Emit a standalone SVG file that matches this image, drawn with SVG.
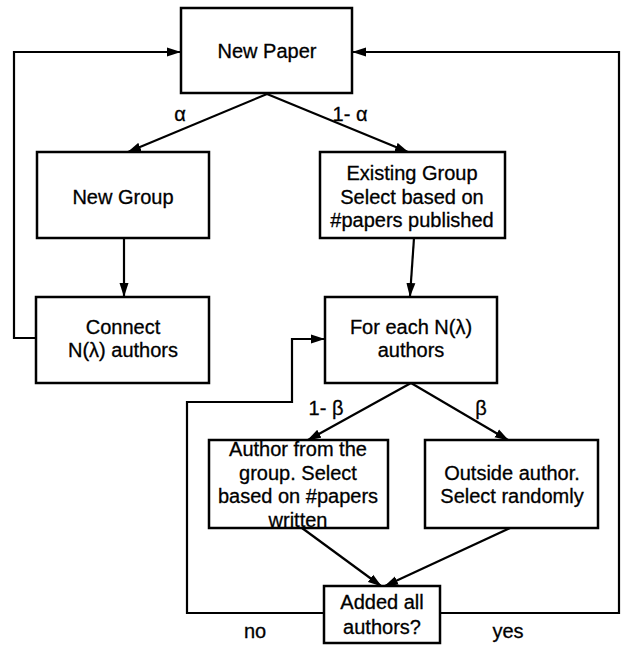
<svg xmlns="http://www.w3.org/2000/svg" width="621" height="645" viewBox="0 0 621 645">
<style>
.box{fill:#fff;stroke:#000;stroke-width:2.5}
.t{font-family:"Liberation Sans",Arial,sans-serif;font-size:20px;fill:#000;stroke:#000;stroke-width:0.3;text-anchor:middle}
.c{fill:none;stroke:#000;stroke-width:2.2}
</style>
<defs>
<marker id="ah" markerUnits="userSpaceOnUse" markerWidth="14" markerHeight="10" viewBox="0 0 14 10" refX="13" refY="5" orient="auto">
<path d="M0,0.5 L14,5 L0,9.5 Z" fill="#000"/>
</marker>
</defs>
<rect width="621" height="645" fill="#fff"/>
<g id="connectors">
<path class="c" d="M36,338 H14 V52 H180" marker-end="url(#ah)"/>
<path class="c" d="M440,613 H619 V52 H353" marker-end="url(#ah)"/>
<path class="c" d="M267,94 L128,152" marker-end="url(#ah)"/>
<path class="c" d="M267,94 L408,152" marker-end="url(#ah)"/>
<path class="c" d="M124,238 V296" marker-end="url(#ah)"/>
<path class="c" d="M414,238 L410,296" marker-end="url(#ah)"/>
<path class="c" d="M411,383 L308,440" marker-end="url(#ah)"/>
<path class="c" d="M411,383 L508,440" marker-end="url(#ah)"/>
<path class="c" d="M302,528 L381,586" marker-end="url(#ah)"/>
<path class="c" d="M510,528 L385,586" marker-end="url(#ah)"/>
<path class="c" d="M324,613 H187 V402 H292 V339 H324" marker-end="url(#ah)"/>
<text class="t" x="180" y="121">α</text>
<text class="t" x="350" y="121">1- α</text>
<text class="t" x="326" y="415">1- β</text>
<text class="t" x="481" y="415">β</text>
<text class="t" x="255" y="638">no</text>
<text class="t" x="508" y="638">yes</text>
</g>
<g id="new-paper">
<rect class="box" x="181" y="8" width="171" height="85"/>
<text class="t" x="267" y="58">New Paper</text>
</g>
<g id="new-group">
<rect class="box" x="37" y="152" width="172" height="86"/>
<text class="t" x="123" y="204">New Group</text>
</g>
<g id="existing-group">
<rect class="box" x="320" y="152" width="185" height="86"/>
<text class="t" x="412" y="180">Existing Group</text>
<text class="t" x="412" y="204">Select based on</text>
<text class="t" x="412" y="227">#papers published</text>
</g>
<g id="connect">
<rect class="box" x="36" y="297" width="173" height="86"/>
<text class="t" x="123" y="334">Connect</text>
<text class="t" x="123" y="357">N(λ) authors</text>
</g>
<g id="for-each">
<rect class="box" x="325" y="297" width="172" height="86"/>
<text class="t" x="411" y="334">For each N(λ)</text>
<text class="t" x="411" y="357">authors</text>
</g>
<g id="author-group">
<rect class="box" x="209" y="440" width="179" height="88"/>
<text class="t" x="298" y="456">Author from the</text>
<text class="t" x="298" y="480">group. Select</text>
<text class="t" x="298" y="503">based on #papers</text>
<text class="t" x="298" y="527">written</text>
</g>
<g id="outside-author">
<rect class="box" x="425" y="440" width="173" height="88"/>
<text class="t" x="512" y="480">Outside author.</text>
<text class="t" x="512" y="503">Select randomly</text>
</g>
<g id="added-all">
<rect class="box" x="324" y="586" width="116" height="57"/>
<text class="t" x="382" y="609">Added all</text>
<text class="t" x="382" y="634">authors?</text>
</g>
</svg>
